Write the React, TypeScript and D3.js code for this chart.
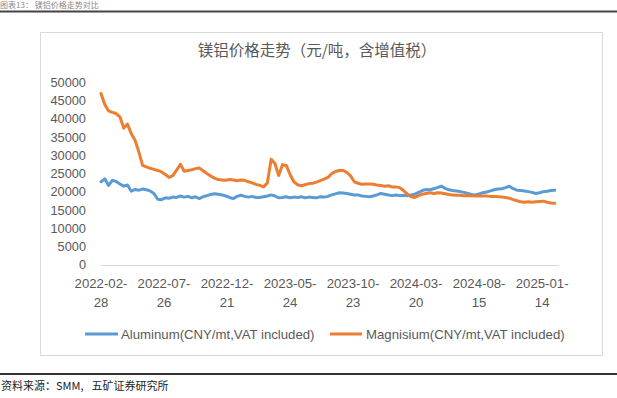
import React, { useEffect, useRef } from "react";
import * as d3 from "d3";

const W = 617;
const H = 398;

// trading-day index of every 6th session, from 2022-02-28
const STEP = 6;
const tickDays = [0, 100, 200, 300, 400, 500, 600, 700];
const tickLabels = [
  ["2022-02-", "28"],
  ["2022-07-", "26"],
  ["2022-12-", "21"],
  ["2023-05-", "24"],
  ["2023-10-", "23"],
  ["2024-03-", "20"],
  ["2024-08-", "15"],
  ["2025-01-", "14"],
];
const yTicks = [0, 5000, 10000, 15000, 20000, 25000, 30000, 35000, 40000, 45000, 50000];

const aluminum = [
  22800, 23600, 21800, 23200, 22900, 22200, 21600, 21900, 20200, 20700,
  20500, 20800, 20600, 20300, 19600, 18000, 17900, 18400, 18300, 18600,
  18500, 18900, 18600, 18800, 18400, 18700, 18200, 18700, 19000, 19300,
  19500, 19400, 19200, 18900, 18500, 18200, 18800, 19100, 18800, 18600,
  18800, 18500, 18500, 18700, 18900, 19200, 18900, 18400, 18500, 18700,
  18400, 18600, 18500, 18700, 18400, 18600, 18500, 18400, 18700, 18600,
  18800, 19200, 19500, 19800, 19700, 19600, 19400, 19200, 19200, 18900,
  18800, 18700, 18900, 19200, 19600, 19400, 19200, 19000, 19200, 19000,
  19100, 19000, 19200, 19400, 19900, 20400, 20700, 20600, 20900, 21200,
  21600, 21000, 20600, 20400, 20300, 20100, 19900, 19600, 19300, 19200,
  19500, 19800, 20000, 20300, 20600, 20800, 20900, 21200, 21600, 20900,
  20500, 20400, 20300, 20100, 19900, 19600, 19800, 20100, 20200, 20400,
  20500,
];

const magnesium = [
  47000, 44000, 42200, 41800, 41500, 40600, 37500, 38600, 36000, 34200,
  31000, 27300, 26900, 26500, 26200, 25900, 25500, 24800, 24000, 24500,
  26000, 27600, 25700, 25900, 26100, 26400, 26600, 25800, 25100, 24400,
  23800, 23400, 23300, 23200, 23400, 23300, 23100, 23300, 23200, 22800,
  22500, 22100, 21800, 21400, 22500, 29000, 27800, 24500, 27500, 27300,
  24800, 22800, 22000, 21700, 22000, 22300, 22400, 22700, 23100, 23500,
  24000, 25000, 25600, 25900, 25900, 25400, 24400, 22800, 22400, 22100,
  22200, 22200, 22100, 21900, 21800, 21600, 21700, 21400, 21400, 21200,
  20400, 19500, 18700, 18500, 19000, 19400, 19600, 19800, 19600, 19800,
  19700, 19500, 19300, 19200, 19100, 19100, 19000, 19000, 19000, 18900,
  18900, 18900, 18900, 18800, 18800, 18700, 18600, 18500, 18300, 17900,
  17600, 17300, 17200, 17300, 17200, 17300, 17400, 17500, 17200, 17000,
  16900,
];

const seriesNames = [
  "Aluminum(CNY/mt,VAT included)",
  "Magnisium(CNY/mt,VAT included)",
];
const colors = ["#5B9BD5", "#ED7D31"];

const FONT = "'Liberation Sans', Arial, 'Noto Sans CJK SC', sans-serif";
const CJK = "'Noto Sans CJK SC', 'Liberation Sans', sans-serif";

export default function App() {
  const ref = useRef<SVGSVGElement | null>(null);

  useEffect(() => {
    const svg = d3.select(ref.current);
    svg.selectAll("*").remove();

    const x = d3.scaleLinear().domain([0, 722]).range([101, 556]);
    const y = d3.scaleLinear().domain([0, 50000]).range([265, 82.5]);

    // header text and rule
    svg.append("text")
      .attr("x", 0).attr("y", 7.5)
      .attr("font-family", CJK).attr("font-size", 8).attr("fill", "#888")
      .text("图表13：  镁铝价格走势对比");
    svg.append("rect").attr("x", 0).attr("y", 10.5).attr("width", W).attr("height", 2).attr("fill", "#444");

    // chart frame
    svg.append("rect")
      .attr("x", 40.5).attr("y", 32.5).attr("width", 562).attr("height", 323)
      .attr("fill", "#fff").attr("stroke", "#D9D9D9").attr("stroke-width", 1);

    // title
    svg.append("text")
      .attr("x", 317).attr("y", 56)
      .attr("text-anchor", "middle")
      .attr("font-family", CJK).attr("font-size", 15.5).attr("fill", "#595959")
      .text("镁铝价格走势（元/吨，含增值税）");

    // y axis labels
    const gy = svg.append("g");
    yTicks.forEach((t) => {
      gy.append("text")
        .attr("x", 86).attr("y", y(t))
        .attr("dy", "0.35em")
        .attr("text-anchor", "end")
        .attr("font-family", FONT).attr("font-size", 12.8).attr("fill", "#595959")
        .text(String(t));
    });

    // x axis line
    svg.append("line")
      .attr("x1", 101).attr("x2", 559)
      .attr("y1", y(0) + 0.5).attr("y2", y(0) + 0.5)
      .attr("stroke", "#D9D9D9").attr("stroke-width", 1);

    // x labels
    tickDays.forEach((d, i) => {
      const t = svg.append("text")
        .attr("x", x(d)).attr("y", 288)
        .attr("text-anchor", "middle")
        .attr("font-family", FONT).attr("font-size", 13.2).attr("fill", "#595959");
      t.append("tspan").attr("x", x(d)).attr("y", 288).text(tickLabels[i][0]);
      t.append("tspan").attr("x", x(d)).attr("y", 307).text(tickLabels[i][1]);
    });

    // lines
    const line = d3.line<number>()
      .x((_, i) => x(i * STEP))
      .y((v) => y(v))
      .curve(d3.curveLinear);

    [aluminum, magnesium].forEach((s, k) => {
      svg.append("path")
        .attr("d", line(s) || "")
        .attr("fill", "none")
        .attr("stroke", colors[k])
        .attr("stroke-width", 3)
        .attr("stroke-linejoin", "round")
        .attr("stroke-linecap", "round");
    });

    // legend
    const legendItems = [
      { x1: 85, x2: 118, tx: 121 },
      { x1: 330, x2: 362, tx: 366 },
    ];
    legendItems.forEach((l, k) => {
      svg.append("line")
        .attr("x1", l.x1).attr("x2", l.x2).attr("y1", 334).attr("y2", 334)
        .attr("stroke", colors[k]).attr("stroke-width", 3);
      svg.append("text")
        .attr("x", l.tx).attr("y", 334).attr("dy", "0.35em")
        .attr("font-family", FONT).attr("font-size", 13.2).attr("fill", "#595959")
        .text(seriesNames[k]);
    });

    // footer
    svg.append("rect").attr("x", 0).attr("y", 373).attr("width", W).attr("height", 2).attr("fill", "#333");
    const ft = svg.append("text")
      .attr("x", 1).attr("y", 390)
      .attr("font-family", CJK).attr("font-size", 11).attr("fill", "#222");
    ft.append("tspan").text("资料来源：SMM,");
    ft.append("tspan").attr("dx", 8).text("五矿证券研究所");
  }, []);

  return (
    <div style={{ position: "absolute", left: 0, top: 0 }}>
      <svg ref={ref} width={W} height={H} style={{ display: "block", background: "#fff" }} />
    </div>
  );
}
